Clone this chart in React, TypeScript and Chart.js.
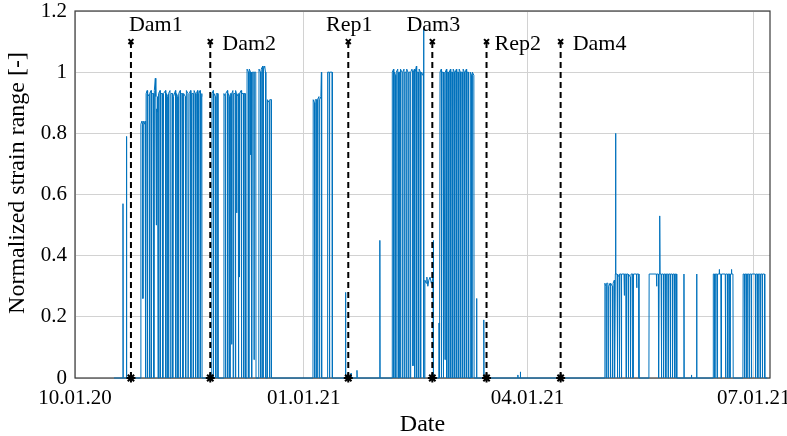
import React, { useEffect, useRef } from "react";
import { Chart, registerables } from "chart.js";

Chart.register(...registerables);

// x axis: days since 10.01.20 (Oct 1, 2020)
const tickDays = [0, 92, 182, 273];
const tickLabels = ["10.01.20", "01.01.21", "04.01.21", "07.01.21"];
const xMax = 279.5;

const eventNames = ["Dam1", "Dam2", "Rep1", "Dam3", "Rep2", "Dam4"];
const eventDays = [22.5, 54.4, 109.9, 143.7, 165.5, 195.3];
const eventLabelPlacement = ["aboveLeft", "right", "above", "above", "right", "right"];

// signal: [day, normalized strain range]
const preDam1: [number, number][] = [
  [15.7, 0], [19.2, 0], [19.3, 0.57], [19.4, 0], [20.6, 0], [20.7, 0.79], [20.8, 0], [26.4, 0],
];
const block1: [number, number][] = [
  [26.5, 0.83], [26.9, 0.84], [27.2, 0.83], [27.3, 0.26], [27.4, 0.84], [27.9, 0.83], [28.2, 0.84], [28.3, 0],
  [28.5, 0], [28.6, 0.93], [29.0, 0.94], [29.1, 0], [29.3, 0.93], [29.8, 0.92], [29.9, 0], [30.1, 0.93],
  [30.6, 0.94], [30.7, 0], [31.0, 0.93], [31.6, 0.93], [31.7, 0], [31.9, 0.94], [32.3, 0.98], [32.5, 0.92],
  [32.7, 0.5], [32.8, 0.88], [33.0, 0.87], [33.2, 0.92], [33.4, 0], [33.6, 0.93], [34.2, 0.94], [34.3, 0],
  [34.6, 0.93], [35.2, 0.93], [35.3, 0], [35.6, 0.93], [36.4, 0.94], [36.5, 0], [36.8, 0.93], [37.3, 0.92],
  [37.4, 0], [37.6, 0.93], [38.2, 0.94], [38.3, 0], [38.6, 0.93], [39.2, 0.93], [39.3, 0], [39.6, 0.92],
  [40.4, 0.94], [40.5, 0], [40.8, 0.93], [41.3, 0.92], [41.4, 0], [41.7, 0.93], [42.3, 0.94], [42.4, 0],
  [42.7, 0.93], [43.3, 0.93], [43.4, 0], [43.7, 0.93], [44.4, 0.92], [44.5, 0], [44.8, 0.94], [45.4, 0.93],
  [45.5, 0], [45.9, 0.93], [46.5, 0.94], [46.6, 0], [46.9, 0.93], [47.5, 0.93], [47.6, 0], [47.9, 0.94],
  [48.4, 0.93], [48.5, 0], [48.8, 0.93], [49.3, 0.94], [49.4, 0], [49.7, 0.93], [50.3, 0.94], [50.4, 0],
  [50.8, 0.92], [51.0, 0.93], [51.1, 0],
];
const block2: [number, number][] = [
  [55.0, 0], [55.1, 0.93], [55.6, 0.94], [55.7, 0], [55.9, 0.93], [56.5, 0.92], [56.6, 0], [56.8, 0.93],
  [57.4, 0.93], [57.5, 0],
  [59.8, 0], [59.9, 0.93], [60.4, 0.92], [60.5, 0], [60.7, 0.93], [61.3, 0.94], [61.4, 0], [61.6, 0.93],
  [62.2, 0.92], [62.3, 0], [62.5, 0.93], [62.9, 0.93], [63.0, 0.11], [63.1, 0.93], [63.5, 0.94], [63.6, 0],
  [63.8, 0.93], [64.4, 0.93], [64.5, 0], [64.7, 0.94], [64.9, 0.93], [65.0, 0.54], [65.1, 0.93], [65.6, 0.92],
  [65.7, 0], [65.9, 0.93], [66.0, 0.93], [66.1, 0.33], [66.2, 0.93], [66.8, 0.94], [66.9, 0], [67.1, 0.93],
  [67.7, 0.93], [67.8, 0], [68.0, 0.93], [68.4, 0.93], [68.5, 0],
];
const block3: [number, number][] = [
  [69.1, 0], [69.2, 1.01], [69.8, 1.0], [69.9, 0], [70.1, 1.01], [70.6, 1.0], [70.7, 0.73], [70.8, 1.0],
  [71.0, 1.0], [71.1, 0], [71.3, 1.0], [71.9, 1.0], [72.0, 0.06], [72.1, 1.0], [72.7, 1.0], [72.8, 0],
  [73.9, 0], [74.0, 1.01], [74.6, 1.0], [74.7, 0], [74.9, 1.01], [75.5, 1.02], [75.6, 0], [75.8, 1.01],
  [76.3, 1.02], [76.6, 1.0], [76.7, 0.37], [76.8, 0],
  [77.3, 0], [77.4, 0.91], [78.1, 0.9], [78.2, 0], [78.4, 0.91], [78.9, 0.91], [79.0, 0],
];
const block4: [number, number][] = [
  [95.7, 0], [95.8, 0.91], [96.3, 0.9], [96.4, 0], [96.6, 0.91], [97.2, 0.91], [97.3, 0], [97.5, 0.91],
  [98.1, 0.92], [98.2, 0], [98.4, 0.91], [98.9, 0.92], [99.1, 1.0], [99.2, 0],
  [101.5, 0], [101.6, 1.0], [102.2, 1.0], [102.3, 0], [102.5, 1.0], [103.4, 1.0], [103.5, 0],
  [108.7, 0], [108.8, 0.28], [108.9, 0], [110.9, 0], [111.0, 0.015], [111.1, 0],
  [113.3, 0], [113.4, 0.025], [113.5, 0], [122.5, 0], [122.6, 0.45], [122.7, 0],
];
const block5: [number, number][] = [
  [127.5, 0], [127.6, 1.0], [128.1, 1.01], [128.2, 0], [128.4, 1.0], [128.9, 0.99], [129.0, 0], [129.2, 1.0],
  [129.8, 1.01], [129.9, 0], [130.1, 1.0], [130.6, 1.0], [130.7, 0], [130.9, 1.01], [131.5, 1.0], [131.6, 0],
  [131.8, 1.0], [132.3, 1.01], [132.4, 0], [132.6, 1.0], [133.1, 1.0], [133.2, 0], [133.4, 1.01], [133.9, 1.0],
  [134.0, 0], [134.2, 1.0], [134.7, 1.0], [134.8, 0], [135.0, 1.0], [135.5, 1.01], [135.8, 1.0], [135.9, 0.04],
  [136.0, 1.0], [136.5, 1.01], [136.6, 0], [136.8, 1.0], [137.3, 1.02], [137.4, 0], [137.6, 1.0], [138.1, 1.0],
  [138.2, 0], [138.4, 1.01], [138.9, 1.0], [139.0, 0], [139.2, 1.0], [139.8, 0.99], [140.1, 1.0], [140.2, 1.14],
  [140.3, 0],
  [140.6, 0], [140.7, 0.32], [141.2, 0.31], [141.5, 0.33], [141.9, 0.3], [142.3, 0.32], [142.8, 0.33],
  [143.3, 0.31], [143.8, 0.32], [144.0, 0.33], [144.1, 0.45], [144.2, 0], [146.3, 0], [146.4, 0.18], [146.5, 0],
];
const block6: [number, number][] = [
  [146.7, 0], [146.8, 1.0], [147.3, 1.01], [147.4, 0], [147.6, 1.0], [148.1, 1.0], [148.2, 0], [148.4, 1.0],
  [148.7, 1.0], [148.8, 0.06], [148.9, 1.0], [149.4, 1.01], [149.5, 0], [149.7, 1.0], [150.2, 1.0], [150.3, 0],
  [150.5, 1.0], [151.0, 1.01], [151.1, 0], [151.3, 1.0], [151.8, 1.0], [151.9, 0], [152.1, 1.01], [152.6, 1.0],
  [152.7, 0], [152.9, 1.0], [153.4, 1.01], [153.5, 0], [153.7, 1.0], [154.2, 1.0], [154.3, 0], [154.5, 1.01],
  [155.0, 1.0], [155.1, 0], [155.3, 1.0], [155.8, 1.0], [155.9, 0], [156.1, 1.01], [156.6, 1.0], [156.7, 0],
  [156.9, 1.0], [157.4, 1.01], [157.5, 0], [157.7, 1.0], [158.2, 1.0], [158.3, 0], [158.9, 0], [159.0, 1.0],
  [159.5, 0.99], [159.6, 0], [159.8, 1.0], [160.4, 0.99], [160.5, 0],
  [161.4, 0], [161.5, 0.26], [161.6, 0], [164.3, 0], [164.4, 0.19], [164.5, 0],
  [178.0, 0], [178.1, 0.01], [178.2, 0], [179.0, 0], [179.1, 0.02], [179.2, 0],
];
const block7: [number, number][] = [
  [213.0, 0], [213.1, 0.31], [213.5, 0.3], [213.6, 0], [213.8, 0.31], [214.3, 0.31], [214.4, 0], [214.6, 0.3],
  [215.2, 0.31], [215.3, 0], [215.5, 0.31], [216.1, 0.3], [216.2, 0], [216.4, 0.31], [216.9, 0.32], [217.0, 0],
  [217.3, 0.34], [217.4, 0.8], [217.5, 0.34], [218.0, 0.34], [218.1, 0], [218.3, 0.34], [218.8, 0.33], [218.9, 0],
  [219.1, 0.34], [219.6, 0.34], [219.7, 0], [219.9, 0.34], [220.8, 0.34], [220.9, 0.27], [221.0, 0.34],
  [221.5, 0.34], [221.6, 0], [221.8, 0.34], [222.4, 0.34], [222.5, 0], [222.7, 0.34], [223.3, 0.33], [223.4, 0],
  [223.6, 0.34], [224.3, 0.34], [224.4, 0], [224.6, 0.34], [225.8, 0.34], [225.9, 0.295], [226.0, 0.34],
  [226.7, 0.34], [226.8, 0],
];
const block8: [number, number][] = [
  [230.8, 0], [230.9, 0.34], [233.8, 0.34], [233.9, 0.3], [234.0, 0.34], [234.6, 0.34], [234.7, 0],
  [234.9, 0.34], [235.1, 0.34], [235.2, 0.53], [235.3, 0.34], [235.7, 0.34], [235.8, 0], [236.0, 0.34],
  [236.6, 0.34], [236.7, 0], [236.9, 0.34], [237.5, 0.34], [237.6, 0], [237.8, 0.34], [238.4, 0.34], [238.5, 0],
  [238.7, 0.34], [239.3, 0.34], [239.4, 0], [239.6, 0.34], [240.2, 0.34], [240.3, 0], [240.5, 0.34],
  [241.1, 0.34], [241.2, 0], [241.4, 0.34], [241.9, 0.34], [242.0, 0],
  [244.8, 0], [244.9, 0.34], [245.0, 0], [247.8, 0], [247.9, 0.01], [248.0, 0], [249.9, 0], [250.0, 0.34], [250.1, 0],
];
const block9: [number, number][] = [
  [256.6, 0], [256.7, 0.34], [257.2, 0.34], [257.3, 0], [257.5, 0.34], [258.1, 0.34], [258.2, 0], [258.4, 0.34],
  [259.0, 0.34], [259.1, 0.355], [259.2, 0.34], [259.7, 0.34], [259.8, 0], [260.0, 0.34], [261.5, 0.34],
  [261.6, 0], [261.8, 0.34], [262.4, 0.34], [262.5, 0], [262.7, 0.34], [263.3, 0.34], [263.4, 0], [263.6, 0.34],
  [263.9, 0.34], [264.0, 0.355], [264.1, 0.34], [264.6, 0.34], [264.7, 0],
  [268.6, 0], [268.7, 0.34], [269.2, 0.34], [269.3, 0], [269.5, 0.34], [270.1, 0.34], [270.2, 0], [270.4, 0.34],
  [271.0, 0.34], [271.1, 0], [271.3, 0.34], [271.9, 0.34], [272.0, 0], [272.2, 0.34], [273.6, 0.34], [273.7, 0],
  [273.9, 0.34], [274.5, 0.34], [274.6, 0], [274.8, 0.34], [275.4, 0.34], [275.5, 0], [275.7, 0.34],
  [276.3, 0.34], [276.4, 0], [276.6, 0.34], [277.3, 0.34], [277.4, 0], [278.4, 0],
];

const signal = [
  ...preDam1, ...block1, ...block2, ...block3, ...block4, ...block5, ...block6, ...block7, ...block8, ...block9,
];

const SERIF = "'Liberation Serif', 'Times New Roman', serif";

export default function App() {
  const ref = useRef<HTMLCanvasElement | null>(null);

  useEffect(() => {
    if (!ref.current) return;

    const overlay = {
      id: "overlay",
      beforeDatasetsDraw(chart: any) {
        const { ctx, chartArea: a } = chart;
        ctx.save();
        ctx.strokeStyle = "#3a3a3a";
        ctx.lineWidth = 1.2;
        ctx.strokeRect(a.left, a.top, a.right - a.left, a.bottom - a.top);
        ctx.restore();
      },
      afterDraw(chart: any) {
        const { ctx, scales } = chart;
        const xs = scales.x;
        const ys = scales.y;
        ctx.save();
        ctx.fillStyle = "#000";
        ctx.font = `22px ${SERIF}`;
        ctx.textBaseline = "alphabetic";
        const yTop = ys.getPixelForValue(1.1);
        eventNames.forEach((name, i) => {
          const px = xs.getPixelForValue(eventDays[i]);
          const p = eventLabelPlacement[i];
          if (p === "aboveLeft") {
            ctx.textAlign = "left";
            ctx.fillText(name, px - 2, yTop - 10.5);
          } else if (p === "above") {
            ctx.textAlign = "center";
            ctx.fillText(name, px + 1, yTop - 11);
          } else {
            ctx.textAlign = "left";
            ctx.fillText(name, px + (name === "Rep2" ? 8 : 12), yTop + 8.5);
          }
        });
        // axis titles
        ctx.font = `24px ${SERIF}`;
        ctx.textAlign = "center";
        ctx.textBaseline = "middle";
        ctx.fillText("Date", (chart.chartArea.left + chart.chartArea.right) / 2, 425);
        ctx.translate(18, 183);
        ctx.rotate(-Math.PI / 2);
        ctx.fillText("Normalized strain range [-]", 0, 0);
        ctx.restore();
      },
    };

    const markerSets = eventDays.map((d) => ({
      type: "line" as const,
      data: [
        { x: d, y: 0 },
        { x: d, y: 1.1 },
      ],
      borderColor: "#000",
      backgroundColor: "#000",
      borderWidth: 2,
      borderDash: [6, 4],
      pointStyle: ["star", "crossRot"],
      pointRadius: [4.5, 3.5],
      pointBorderWidth: 2,
      pointBorderColor: "#000",
      clip: false as any,
      order: 1,
    }));

    const chart = new Chart(ref.current, {
      type: "line",
      data: {
        datasets: [
          {
            data: signal.map(([x, y]) => ({ x, y })),
            borderColor: "#0072BD",
            borderWidth: 1,
            pointRadius: 0,
            tension: 0,
            clip: false as any,
            order: 2,
          },
          ...markerSets,
        ] as any,
      },
      options: {
        responsive: false,
        animation: false,
        devicePixelRatio: 1,
        layout: { padding: { left: 0, right: 17, top: 11, bottom: 0 } },
        plugins: { legend: { display: false }, tooltip: { enabled: false } },
        scales: {
          x: {
            type: "linear",
            min: 0,
            max: xMax,
            afterBuildTicks: (s: any) => {
              s.ticks = tickDays.map((v) => ({ value: v }));
            },
            afterFit: (s: any) => {
              s.height = 58;
              s.paddingLeft = 0;
              s.paddingRight = 0;
            },
            ticks: {
              autoSkip: false,
              maxRotation: 0,
              padding: 8,
              color: "#000",
              font: { family: SERIF, size: 21 },
              callback: (v: any) => {
                const i = tickDays.indexOf(Number(v));
                return i >= 0 ? tickLabels[i] : "";
              },
            },
            grid: { color: "#d2d2d2", lineWidth: 1, drawTicks: false },
            border: { display: false },
          },
          y: {
            type: "linear",
            min: 0,
            max: 1.2,
            afterFit: (s: any) => {
              s.width = 75;
              s.paddingTop = 0;
              s.paddingBottom = 0;
            },
            ticks: {
              stepSize: 0.2,
              padding: 8,
              color: "#000",
              font: { family: SERIF, size: 21 },
              callback: (v: any) => String(Math.round(Number(v) * 10) / 10),
            },
            grid: { color: "#d2d2d2", lineWidth: 1, drawTicks: false },
            border: { display: false },
          },
        },
      },
      plugins: [overlay],
    });

    return () => chart.destroy();
  }, []);

  return (
    <div style={{ position: "fixed", left: 0, top: 0, width: 787, height: 436, background: "#fff" }}>
      <canvas ref={ref} width={787} height={436} style={{ display: "block" }} />
    </div>
  );
}
